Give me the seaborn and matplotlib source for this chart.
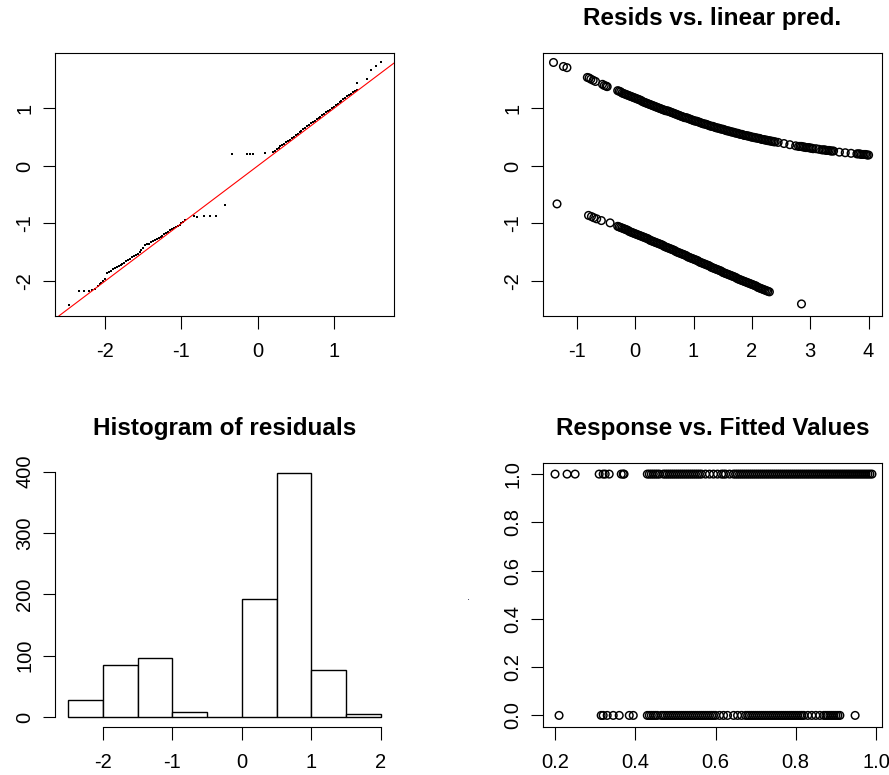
import matplotlib
matplotlib.use('Agg')
import matplotlib.pyplot as plt
import seaborn as sns

# --- QQ plot (theoretical quantiles vs deviance residuals) ---
qq_x = [-2.47, -2.35, -2.28, -2.22, -2.17, -2.13,
        -2.100, -2.075, -2.050, -2.025, -2.000, -1.975, -1.950, -1.925, -1.900, -1.875,
        -1.850, -1.825, -1.800, -1.775, -1.750, -1.725, -1.700, -1.675, -1.650, -1.625,
        -1.600, -1.575, -1.550, -1.525, -1.500, -1.475, -1.450, -1.425, -1.400, -1.375,
        -1.350, -1.325, -1.300, -1.275, -1.250, -1.225, -1.200, -1.175, -1.150, -1.125,
        -1.100, -1.075, -1.050, -1.025, -1.000, -0.975, -0.950,
        -0.84, -0.80, -0.70, -0.62, -0.55, -0.43,
        -0.34, -0.14, -0.10, -0.06, 0.10,
        0.200, 0.225, 0.250, 0.275, 0.300, 0.325, 0.350, 0.375, 0.400, 0.425, 0.450,
        0.475, 0.500, 0.525, 0.550, 0.575, 0.600, 0.625, 0.650, 0.675, 0.700, 0.725,
        0.750, 0.775, 0.800, 0.825, 0.850, 0.875, 0.900, 0.925, 0.950, 0.975, 1.000,
        1.025, 1.050, 1.075, 1.100, 1.125, 1.150, 1.175, 1.200, 1.225, 1.250, 1.275, 1.300,
        1.30, 1.43, 1.49, 1.56, 1.62]
qq_y = [-2.42, -2.17, -2.17, -2.17, -2.16, -2.14,
        -2.08, -2.06, -2.03, -2.00, -1.97, -1.86, -1.84, -1.82, -1.80, -1.78,
        -1.76, -1.74, -1.72, -1.70, -1.68, -1.66, -1.63, -1.61, -1.59, -1.57,
        -1.55, -1.53, -1.50, -1.47, -1.43, -1.38, -1.36, -1.35, -1.33, -1.31,
        -1.29, -1.27, -1.25, -1.23, -1.21, -1.19, -1.17, -1.15, -1.12, -1.10,
        -1.08, -1.06, -1.04, -1.02, -1.00, -0.97, -0.94,
        -0.87, -0.88, -0.87, -0.87, -0.87, -0.68,
        0.21, 0.21, 0.21, 0.21, 0.22,
        0.24, 0.26, 0.29, 0.31, 0.34, 0.37, 0.39, 0.42, 0.44, 0.46, 0.49,
        0.51, 0.54, 0.56, 0.59, 0.61, 0.64, 0.66, 0.69, 0.71, 0.74, 0.76,
        0.79, 0.81, 0.84, 0.86, 0.88, 0.91, 0.93, 0.96, 0.98, 1.01, 1.03,
        1.06, 1.08, 1.11, 1.13, 1.16, 1.18, 1.21, 1.23, 1.26, 1.28, 1.30, 1.32,
        1.44, 1.51, 1.67, 1.74, 1.81]

# --- residuals vs linear predictor, response = 1 ---
eta_one = [-1.40, -1.23, -1.17, -0.82, -0.79, -0.76, -0.72, -0.68, -0.56, -0.53, -0.50, -0.48,
           -0.300, -0.275, -0.250, -0.225, -0.200, -0.175, -0.150, -0.125, -0.100, -0.075,
           -0.050, -0.025, 0.000, 0.025, 0.050, 0.075, 0.100, 0.125, 0.150, 0.175,
           0.200, 0.225, 0.250, 0.275, 0.300, 0.325, 0.350, 0.375, 0.400, 0.425,
           0.450, 0.475, 0.500, 0.525, 0.550, 0.575, 0.600, 0.625, 0.650, 0.675,
           0.700, 0.725, 0.750, 0.775, 0.800, 0.825, 0.850, 0.875, 0.900, 0.925,
           0.950, 0.975, 1.000, 1.025, 1.050, 1.075, 1.100, 1.125, 1.150, 1.175,
           1.200, 1.225, 1.250, 1.275, 1.300, 1.325, 1.350, 1.375, 1.400, 1.425,
           1.450, 1.475, 1.500, 1.525, 1.550, 1.575, 1.600, 1.625, 1.650, 1.675,
           1.700, 1.725, 1.750, 1.775, 1.800, 1.825, 1.850, 1.875, 1.900, 1.925,
           1.950, 1.975, 2.000, 2.025, 2.050, 2.075, 2.100, 2.125, 2.150, 2.175,
           2.200, 2.225, 2.250, 2.275, 2.300, 2.325, 2.350, 2.375, 2.400,
           2.45, 2.55, 2.65, 2.75, 2.800, 2.825, 2.850, 2.875, 2.900, 2.925, 2.950,
           2.975, 3.000, 3.025, 3.050, 3.10, 3.15, 3.200, 3.225, 3.250, 3.275, 3.300,
           3.325, 3.350, 3.375, 3.400, 3.50, 3.60, 3.70, 3.800, 3.825, 3.850, 3.875,
           3.900, 3.925, 3.950, 3.975, 4.000]
res_one = [1.80, 1.73, 1.71, 1.54, 1.53, 1.51, 1.49, 1.47, 1.42, 1.40, 1.39, 1.38,
           1.31, 1.30, 1.29, 1.27, 1.26, 1.25, 1.24, 1.23, 1.22, 1.21,
           1.20, 1.19, 1.18, 1.17, 1.16, 1.15, 1.14, 1.12, 1.11, 1.10,
           1.09, 1.08, 1.07, 1.06, 1.05, 1.04, 1.03, 1.02, 1.01, 1.00,
           0.99, 0.98, 0.97, 0.96, 0.96, 0.95, 0.94, 0.93, 0.92, 0.91,
           0.90, 0.89, 0.88, 0.87, 0.86, 0.85, 0.84, 0.84, 0.83, 0.82,
           0.81, 0.80, 0.79, 0.78, 0.78, 0.77, 0.76, 0.75, 0.74, 0.73,
           0.73, 0.72, 0.71, 0.70, 0.69, 0.69, 0.68, 0.67, 0.66, 0.66,
           0.65, 0.64, 0.64, 0.63, 0.62, 0.61, 0.61, 0.60, 0.59, 0.59,
           0.58, 0.57, 0.57, 0.56, 0.55, 0.55, 0.54, 0.53, 0.53, 0.52,
           0.52, 0.51, 0.50, 0.50, 0.49, 0.49, 0.48, 0.48, 0.47, 0.46,
           0.46, 0.45, 0.45, 0.44, 0.44, 0.43, 0.43, 0.42, 0.42,
           0.41, 0.39, 0.37, 0.35, 0.34, 0.34, 0.34, 0.33, 0.33, 0.32, 0.32,
           0.32, 0.31, 0.31, 0.30, 0.30, 0.29, 0.28, 0.28, 0.28, 0.27, 0.27,
           0.27, 0.26, 0.26, 0.26, 0.24, 0.23, 0.22, 0.21, 0.21, 0.21, 0.20,
           0.20, 0.20, 0.20, 0.19, 0.19]

# --- residuals vs linear predictor, response = 0 ---
eta_zero = [-1.34, -0.80, -0.75, -0.71, -0.66, -0.58, -0.43,
            -0.300, -0.275, -0.250, -0.225, -0.200, -0.175, -0.150, -0.125, -0.100, -0.075,
            -0.050, -0.025, 0.000, 0.025, 0.050, 0.075, 0.100, 0.125, 0.150, 0.175,
            0.200, 0.225, 0.250, 0.275, 0.300, 0.325, 0.350, 0.375, 0.400, 0.425,
            0.450, 0.475, 0.500, 0.525, 0.550, 0.575, 0.600, 0.625, 0.650, 0.675,
            0.700, 0.725, 0.750, 0.775, 0.800, 0.825, 0.850, 0.875, 0.900, 0.925,
            0.950, 0.975, 1.000, 1.025, 1.050, 1.075, 1.100, 1.125, 1.150, 1.175,
            1.200, 1.225, 1.250, 1.275, 1.300, 1.325, 1.350, 1.375, 1.400, 1.425,
            1.450, 1.475, 1.500, 1.525, 1.550, 1.575, 1.600, 1.625, 1.650, 1.675,
            1.700, 1.725, 1.750, 1.775, 1.800, 1.825, 1.850, 1.875, 1.900, 1.925,
            1.950, 1.975, 2.000, 2.025, 2.050, 2.075, 2.100, 2.125, 2.150, 2.175,
            2.200, 2.225, 2.250, 2.275, 2.300, 2.85]
res_zero = [-0.66, -0.86, -0.88, -0.90, -0.92, -0.95, -0.99,
            -1.05, -1.06, -1.07, -1.08, -1.09, -1.10, -1.11, -1.12, -1.14, -1.15,
            -1.16, -1.17, -1.18, -1.19, -1.20, -1.21, -1.22, -1.23, -1.24, -1.25,
            -1.26, -1.27, -1.29, -1.30, -1.31, -1.32, -1.33, -1.34, -1.35, -1.36,
            -1.37, -1.38, -1.40, -1.41, -1.42, -1.43, -1.44, -1.45, -1.46, -1.47,
            -1.49, -1.50, -1.51, -1.52, -1.53, -1.54, -1.55, -1.56, -1.58, -1.59,
            -1.60, -1.61, -1.62, -1.63, -1.64, -1.65, -1.67, -1.68, -1.69, -1.70,
            -1.71, -1.72, -1.73, -1.74, -1.76, -1.77, -1.78, -1.79, -1.80, -1.81,
            -1.82, -1.83, -1.85, -1.86, -1.87, -1.88, -1.89, -1.90, -1.91, -1.92,
            -1.93, -1.94, -1.96, -1.97, -1.98, -1.99, -2.00, -2.01, -2.02, -2.03,
            -2.04, -2.05, -2.06, -2.07, -2.08, -2.09, -2.11, -2.12, -2.13, -2.14,
            -2.15, -2.16, -2.17, -2.18, -2.19, -2.40]

# --- histogram of residuals (counts per bin) ---
bin_edges = [-2.5, -2.0, -1.5, -1.0, -0.5, 0.0, 0.5, 1.0, 1.5, 2.0]
bin_mids = [-2.25, -1.75, -1.25, -0.75, -0.25, 0.25, 0.75, 1.25, 1.75]
bin_counts = [28, 85, 97, 8, 0, 192, 398, 77, 5]

# --- response vs fitted values ---
fit_one = [0.20, 0.23, 0.25, 0.31, 0.32, 0.325, 0.335, 0.365, 0.37, 0.372,
           0.430, 0.435, 0.440, 0.445, 0.450, 0.455, 0.460, 0.470, 0.475, 0.480, 0.485,
           0.490, 0.495, 0.500, 0.505, 0.510, 0.515, 0.520, 0.525, 0.530, 0.535, 0.540,
           0.545, 0.550, 0.555, 0.560, 0.565, 0.575, 0.585, 0.595, 0.605, 0.615, 0.620,
           0.625, 0.635, 0.645, 0.650, 0.655, 0.660, 0.665, 0.670, 0.675, 0.680, 0.685,
           0.690, 0.695, 0.700, 0.705, 0.710, 0.715, 0.720, 0.725, 0.730, 0.735, 0.740,
           0.745, 0.750, 0.755, 0.760, 0.765, 0.770, 0.775, 0.780, 0.785, 0.790, 0.795,
           0.800, 0.805, 0.810, 0.815, 0.820, 0.825, 0.830, 0.835, 0.840, 0.845, 0.850,
           0.855, 0.860, 0.865, 0.870, 0.875, 0.880, 0.885, 0.890, 0.895, 0.900, 0.905,
           0.910, 0.915, 0.920, 0.925, 0.930, 0.935, 0.940, 0.945, 0.950, 0.955, 0.960,
           0.965, 0.970, 0.975, 0.980, 0.985, 0.990]
fit_zero = [0.21, 0.315, 0.32, 0.33, 0.345, 0.36, 0.385, 0.395,
            0.430, 0.435, 0.440, 0.445, 0.450, 0.455, 0.465, 0.470, 0.475, 0.480, 0.485,
            0.490, 0.495, 0.500, 0.505, 0.510, 0.515, 0.520, 0.525, 0.530, 0.535, 0.540,
            0.545, 0.550, 0.555, 0.560, 0.565, 0.570, 0.575, 0.580, 0.585, 0.590, 0.595,
            0.600, 0.610, 0.620, 0.630, 0.645, 0.655, 0.665, 0.675, 0.680, 0.685, 0.690,
            0.695, 0.700, 0.705, 0.710, 0.715, 0.720, 0.725, 0.730, 0.735, 0.740, 0.745,
            0.750, 0.755, 0.760, 0.765, 0.770, 0.775, 0.780, 0.785, 0.790, 0.795, 0.800,
            0.805, 0.810, 0.815, 0.820, 0.830, 0.840, 0.850, 0.860, 0.870, 0.875, 0.880,
            0.885, 0.890, 0.895, 0.900, 0.905, 0.910, 0.948]

sns.set_theme(style='ticks')
plt.rcParams['font.family'] = ['Liberation Sans', 'DejaVu Sans']
plt.rcParams['axes.unicode_minus'] = False
plt.rcParams['text.color'] = 'black'
plt.rcParams['axes.titlecolor'] = 'black'

fig = plt.figure(figsize=(8.89, 7.75), dpi=100)
W, H = 889, 775


def place(l, t, r, b):
    return fig.add_axes([l / W, 1 - b / H, (r - l) / W, (b - t) / H])


ax1 = place(55, 53, 394, 316)
ax2 = place(543, 53, 882, 316)
ax3 = place(55, 463, 394, 727)
ax4 = place(543, 463, 882, 727)

circ = dict(marker='o', s=30, facecolor='none', edgecolor='black', linewidth=1.05)

# QQ plot
sns.scatterplot(x=qq_x, y=qq_y, marker='s', s=3, color='black', linewidth=0, ax=ax1)
ax1.axline((0, 0), slope=1, color='red', lw=0.8)
ax1.set_xlim(-2.66, 1.79)
ax1.set_ylim(-2.61, 1.965)
ax1.set_xticks([-2, -1, 0, 1])
ax1.set_yticks([-2, -1, 0, 1])

# residuals vs linear predictor
sns.scatterplot(x=eta_one, y=res_one, ax=ax2, **circ)
sns.scatterplot(x=eta_zero, y=res_zero, ax=ax2, **circ)
ax2.set_xlim(-1.58, 4.23)
ax2.set_ylim(-2.61, 1.965)
ax2.set_xticks([-1, 0, 1, 2, 3, 4])
ax2.set_yticks([-2, -1, 0, 1])
ax2.set_title('Resids vs. linear pred.', fontsize=17.5, fontweight='bold', pad=20)

# histogram
sns.histplot(x=bin_mids, weights=bin_counts, bins=bin_edges, color='white',
             edgecolor='black', linewidth=1.0, alpha=1, ax=ax3)
ax3.set_xlim(-2.69, 2.19)
ax3.set_ylim(-16, 414)
ax3.set_xticks([-2, -1, 0, 1, 2])
ax3.set_yticks([0, 100, 200, 300, 400])
for s in ['top', 'right']:
    ax3.spines[s].set_visible(False)
ax3.spines['bottom'].set_bounds(-2, 2)
ax3.spines['left'].set_bounds(0, 400)
ax3.set_title('Histogram of residuals', fontsize=17.5, fontweight='bold', pad=20)

# response vs fitted
sns.scatterplot(x=fit_one, y=[1.0] * len(fit_one), ax=ax4, **circ)
sns.scatterplot(x=fit_zero, y=[0.0] * len(fit_zero), ax=ax4, **circ)
ax4.set_xlim(0.17, 1.015)
ax4.set_ylim(-0.048, 1.046)
ax4.set_xticks([0.2, 0.4, 0.6, 0.8, 1.0])
ax4.set_xticklabels(['0.2', '0.4', '0.6', '0.8', '1.0'])
ax4.set_yticks([0.0, 0.2, 0.4, 0.6, 0.8, 1.0])
ax4.set_yticklabels(['0.0', '0.2', '0.4', '0.6', '0.8', '1.0'])
ax4.set_title('Response vs. Fitted Values', fontsize=17.5, fontweight='bold', pad=20)

for ax in [ax1, ax2, ax3, ax4]:
    ax.set_xlabel('')
    ax.set_ylabel('')
    ax.tick_params(direction='out', length=9, width=0.8, colors='black',
                   labelsize=14.5)
    ax.tick_params(axis='x', pad=10)
    ax.tick_params(axis='y', pad=6)
    for lab in ax.get_yticklabels():
        lab.set_rotation(90)
        lab.set_va('center')
    for sp in ax.spines.values():
        sp.set_linewidth(0.8)
        sp.set_color('black')

fig.text(468 / W, 1 - 600 / H, '.', fontsize=8, color='#222244', ha='center', va='baseline')

fig.savefig('out.png', dpi=100)
